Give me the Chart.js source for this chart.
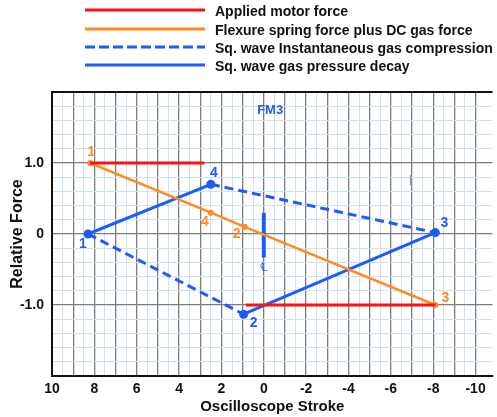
<!DOCTYPE html>
<html>
<head>
<meta charset="utf-8">
<script src="https://cdn.jsdelivr.net/npm/chart.js@4.4.0/dist/chart.umd.min.js"></script>
<style>
  html, body { margin: 0; padding: 0; background: #fff; }
  #wrap { width: 497px; height: 417px; position: relative; }
</style>
</head>
<body>
<div id="wrap"><canvas id="c"></canvas></div>
<script>
// data
const seriesNames = [
  'Applied motor force',
  'Flexure spring force plus DC gas force',
  'Sq. wave Instantaneous gas compression',
  'Sq. wave gas pressure decay'
];
const motorX = [8.2, 2.8, 1.8, 0.85, -8.1];
const motorY = [1.0, 1.0, null, -1.0, -1.0];
const springX = [8.2, 2.5, 0.9, -8.1];
const springY = [1.0, 0.30, 0.10, -1.0];
const springLabels = ['1', '4', '2', '3'];
const compX = [2.5, -8.1, 0, 8.3, 0.95];
const compY = [0.70, 0.02, null, 0.0, -1.13];
const decayX = [8.3, 2.5, 0, 0.95, -8.1];
const decayY = [0.0, 0.70, null, -1.13, 0.02];
const decayLabels = ['1', '4', '', '2', '3'];
const centerX = [0, 0];
const centerY = [0.30, -0.33];
const xTicks = [10, 8, 6, 4, 2, 0, -2, -4, -6, -8, -10];
const yTicks = [1, 0, -1];

const RED = '#ff1010', ORANGE = '#ff8c1f', BLUE = '#1b5cff';
const FONT = 'Liberation Sans, Arial, sans-serif';

function pts(xs, ys) { return xs.map((x, i) => ({ x: x, y: ys[i] })); }
const near = (a, b) => Math.abs(a - b) < 1e-6;

const legendPlugin = {
  id: 'sideLegend',
  afterDraw(chart) {
    const ctx = chart.ctx;
    const rows = [
      { color: RED, dash: [], y: 10 },
      { color: ORANGE, dash: [], y: 29 },
      { color: BLUE, dash: [10, 4], y: 47 },
      { color: BLUE, dash: [], y: 65 }
    ];
    ctx.save();
    ctx.font = 'bold 14px ' + FONT;
    ctx.textBaseline = 'middle';
    rows.forEach((r, i) => {
      ctx.strokeStyle = r.color;
      ctx.lineWidth = 3;
      ctx.setLineDash(r.dash);
      ctx.beginPath();
      ctx.moveTo(85, r.y);
      ctx.lineTo(205, r.y);
      ctx.stroke();
      ctx.fillStyle = '#111';
      ctx.fillText(seriesNames[i], 215, r.y + 2);
    });
    ctx.restore();
  }
};

const notesPlugin = {
  id: 'notes',
  afterDatasetsDraw(chart) {
    const ctx = chart.ctx, xs = chart.scales.x, ys = chart.scales.y;
    ctx.save();
    ctx.textAlign = 'center';
    ctx.textBaseline = 'middle';
    ctx.font = 'bold 14px ' + FONT;
    const springOff = [[1, -11], [-6, 9], [-8, 7], [10, -7]];
    springLabels.forEach((t, i) => {
      ctx.fillStyle = ORANGE;
      ctx.fillText(t, xs.getPixelForValue(springX[i]) + springOff[i][0], ys.getPixelForValue(springY[i]) + springOff[i][1]);
    });
    const decayOff = [[-5, 10], [3, -11], [0, 0], [10, 9], [9, -9]];
    decayLabels.forEach((t, i) => {
      if (!t) return;
      ctx.fillStyle = BLUE;
      ctx.fillText(t, xs.getPixelForValue(decayX[i]) + decayOff[i][0], ys.getPixelForValue(decayY[i]) + decayOff[i][1]);
    });
    ctx.fillStyle = BLUE;
    ctx.font = 'bold 13px ' + FONT;
    ctx.fillText('FM3', xs.getPixelForValue(-0.3), ys.getPixelForValue(1.74));
    ctx.font = '13px ' + FONT;
    ctx.fillText('\u2104', xs.getPixelForValue(0), ys.getPixelForValue(-0.47));
    ctx.fillStyle = '#999';
    ctx.fillRect(xs.getPixelForValue(-6.9), ys.getPixelForValue(0.83), 1.5, 10);
    ctx.restore();
  }
};

new Chart(document.getElementById('c'), {
  type: 'line',
  data: {
    datasets: [
      { label: seriesNames[0], data: pts(motorX, motorY), borderColor: RED, borderWidth: 3, pointRadius: 0, spanGaps: false },
      { label: seriesNames[1], data: pts(springX, springY), borderColor: ORANGE, backgroundColor: ORANGE, borderWidth: 2.5, pointRadius: 3, pointBorderWidth: 0 },
      { label: seriesNames[2], data: pts(compX, compY), borderColor: BLUE, borderWidth: 3, borderDash: [9, 5], pointRadius: 0, spanGaps: false },
      { label: seriesNames[3], data: pts(decayX, decayY), borderColor: BLUE, backgroundColor: BLUE, borderWidth: 3, pointRadius: 4.5, pointBorderWidth: 0, spanGaps: false },
      { label: 'centerline', data: pts(centerX, centerY), borderColor: BLUE, borderWidth: 4, pointRadius: 0, borderCapStyle: 'butt' }
    ]
  },
  options: {
    responsive: true,
    maintainAspectRatio: false,
    animation: false,
    layout: { padding: { top: 92, right: 0, left: 0, bottom: 0 } },
    plugins: { legend: { display: false }, tooltip: { enabled: false } },
    scales: {
      x: {
        type: 'linear',
        reverse: true,
        min: -10.8,
        max: 10,
        afterFit(s) { s.height = 41; s.paddingLeft = 0; s.paddingRight = 0; },
        ticks: {
          stepSize: 0.5,
          autoSkip: false,
          maxRotation: 0,
          padding: 5,
          color: '#111',
          font: { family: FONT, size: 14, weight: 'bold' },
          callback: v => xTicks.some(t => near(t, v)) ? String(Math.round(v)) : ''
        },
        grid: {
          drawTicks: false,
          color: c => {
            const v = c.tick.value;
            if (near(v, Math.round(v))) return '#7c7c7c';
            if (near(v * 2, Math.round(v * 2))) return '#cfe2f3';
            return 'rgba(0,0,0,0)';
          },
          lineWidth: c => near(c.tick.value, Math.round(c.tick.value)) ? 1.3 : 1
        },
        border: { color: '#111', width: 2 },
        title: { display: true, text: 'Oscilloscope Stroke', color: '#111', font: { family: FONT, size: 15, weight: 'bold' }, padding: { top: 0, bottom: 1 } }
      },
      y: {
        type: 'linear',
        min: -2,
        max: 2,
        afterFit(s) { s.width = 52; s.paddingTop = 0; s.paddingBottom = 0; },
        ticks: {
          stepSize: 0.2,
          autoSkip: false,
          padding: 8,
          color: '#111',
          font: { family: FONT, size: 14, weight: 'bold' },
          callback: v => {
            const t = yTicks.find(t => near(t, v));
            if (t === undefined) return '';
            return t === 0 ? '0' : t.toFixed(1);
          }
        },
        grid: {
          drawTicks: false,
          color: c => {
            const v = c.tick.value;
            if (near(Math.abs(v), 2)) return '#111';
            if (near(v, Math.round(v))) return '#7c7c7c';
            return '#cfe2f3';
          },
          lineWidth: c => near(Math.abs(c.tick.value), 2) ? 2 : (near(c.tick.value, Math.round(c.tick.value)) ? 1.3 : 1)
        },
        border: { color: '#111', width: 2 },
        title: { display: true, text: 'Relative Force', color: '#111', font: { family: FONT, size: 16, weight: 'bold' }, padding: { top: 8, bottom: 0 } }
      }
    }
  },
  plugins: [legendPlugin, notesPlugin]
});
</script>
</body>
</html>
